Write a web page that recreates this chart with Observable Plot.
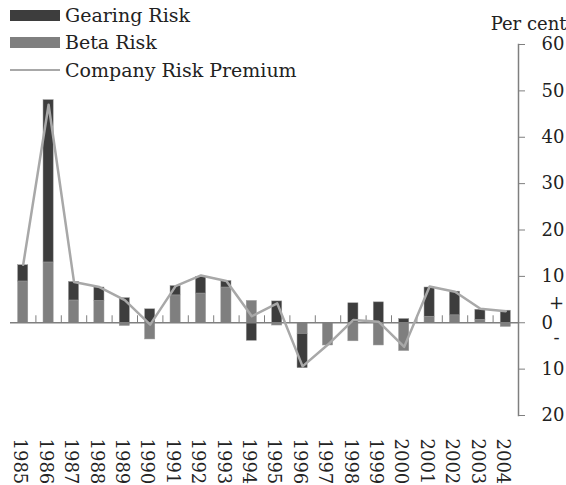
<!DOCTYPE html>
<html>
<head>
<meta charset="utf-8">
<script src="https://cdn.jsdelivr.net/npm/d3@7"></script>
<script src="https://cdn.jsdelivr.net/npm/@observablehq/plot@0.6"></script>
<style>
  body { margin: 0; background: #fff; }
  #wrap { position: relative; width: 566px; height: 485px; font-family: "DejaVu Serif", serif; }
  #legend { position: absolute; left: 0; top: 0; font-size: 19px; color: #222; }
  .row { position: absolute; left: 10px; height: 20px; display: flex; align-items: center; white-space: nowrap; }
  .sw { width: 50px; height: 11px; margin-right: 5px; }
  .ln { width: 50px; height: 2.5px; margin-right: 5px; }
</style>
</head>
<body>
<div id="wrap">
  <div id="chart"></div>
  <div id="legend"></div>
</div>
<script>
const years = ["1985","1986","1987","1988","1989","1990","1991","1992","1993","1994","1995","1996","1997","1998","1999","2000","2001","2002","2003","2004"];
const betaRisk = [8.9, 13.0, 4.8, 4.7, -0.7, -3.6, 5.9, 6.3, 7.6, 4.7, -0.6, -2.4, -4.9, -4.0, -4.9, -6.1, 1.3, 1.6, 0.6, -0.9];
const gearingRisk = [3.5, 35.0, 4.0, 2.9, 5.3, 2.9, 2.0, 3.6, 1.4, -3.9, 4.6, -7.4, 0.0, 4.2, 4.4, 0.8, 6.3, 5.1, 2.2, 2.6];
const companyRiskPremium = [12.5, 47.0, 8.8, 7.7, 4.9, -0.4, 7.9, 10.2, 9.0, 1.4, 4.2, -9.4, -4.7, 0.6, 0.2, -5.2, 7.8, 6.7, 3.0, 2.5];
const yTicks = [-20, -10, 0, 10, 20, 30, 40, 50, 60];
const signLabels = [{y: 4.3, text: "+"}, {y: -3.4, text: "-"}];
const seriesNames = ["Gearing Risk", "Beta Risk", "Company Risk Premium"];
const colors = {"Gearing Risk": "#3d3d3d", "Beta Risk": "#7f7f7f", "Company Risk Premium": "#a8a8a8"};

const rows = [];
years.forEach((y, i) => rows.push({year: y, series: "Beta Risk", value: betaRisk[i]}));
years.forEach((y, i) => rows.push({year: y, series: "Gearing Risk", value: gearingRisk[i]}));
const line = years.map((y, i) => ({year: y, value: companyRiskPremium[i]}));

const step = 508 / 20;

const chart = Plot.plot({
  width: 566,
  height: 485,
  marginLeft: 10,
  marginRight: 48,
  marginTop: 44,
  marginBottom: 70,
  style: {fontFamily: "DejaVu Serif, serif", fontSize: "18px", color: "#222", background: "#fff"},
  x: {type: "band", domain: years, paddingInner: 0.6, paddingOuter: 0.3, round: false},
  y: {domain: [-20, 60]},
  color: {domain: ["Gearing Risk", "Beta Risk"], range: [colors["Gearing Risk"], colors["Beta Risk"]]},
  marks: [
    Plot.barY(rows, Plot.stackY({x: "year", y: "value", fill: "series", stroke: "#9a9a9a", strokeWidth: 0.5})),
    Plot.ruleY([0], {stroke: "#7f7f7f", strokeWidth: 1.5}),
    Plot.ruleX(years.slice(0, -1), {x: d => d, y1: 0, y2: 1.5, dx: step / 2, stroke: "#7f7f7f", strokeWidth: 1}),
    Plot.line(line, {x: "year", y: "value", stroke: colors["Company Risk Premium"], strokeWidth: 2.5}),
    Plot.frame({anchor: "right", stroke: "#7f7f7f", strokeWidth: 1.5}),
    Plot.axisY({anchor: "right", ticks: yTicks, tickFormat: d => Math.abs(d), tickSize: 6, tickPadding: 17, textAnchor: "start", stroke: "#7f7f7f", label: null, fill: "#222", fontSize: 18}),
    Plot.text(signLabels, {y: "y", text: "text", frameAnchor: "right", dx: 38, textAnchor: "middle", fill: "#222", fontSize: 18}),
    Plot.text(["Per cent"], {frameAnchor: "top-right", text: d => d, dx: 48, dy: -27, textAnchor: "end", fill: "#222", fontSize: 18}),
    Plot.axisX({anchor: "bottom", tickRotate: 90, tickSize: 0, tickPadding: 23, dx: -3, label: null, fill: "#222", fontSize: 18})
  ]
});
document.getElementById("chart").appendChild(chart);

const legend = document.getElementById("legend");
const tops = [5, 32, 60];
seriesNames.forEach((name, i) => {
  const row = document.createElement("div");
  row.className = "row";
  row.style.top = tops[i] + "px";
  const sw = document.createElement("div");
  sw.className = i < 2 ? "sw" : "ln";
  sw.style.background = colors[name];
  const t = document.createElement("span");
  t.textContent = name;
  row.appendChild(sw);
  row.appendChild(t);
  legend.appendChild(row);
});
</script>
</body>
</html>
